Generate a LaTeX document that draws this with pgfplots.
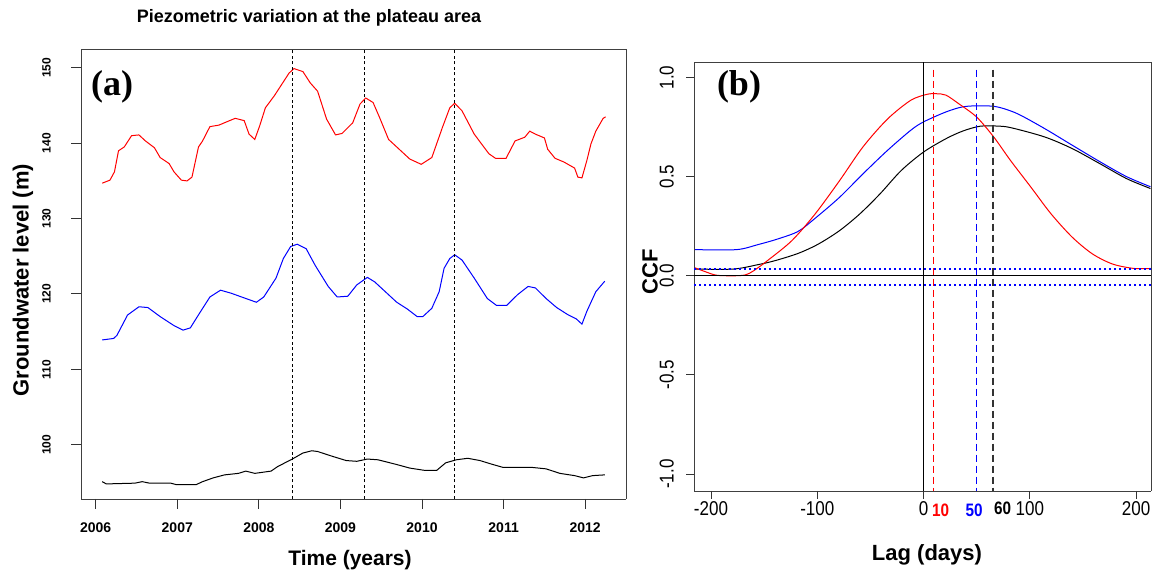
\documentclass[border=0pt]{standalone}
\usepackage{fontspec}
\setmainfont{Liberation Sans}
\newfontfamily\timesf{Liberation Serif}
\newfontfamily\narrowf[FakeStretch=0.85]{Liberation Sans}
\usepackage{pgfplots}
\pgfplotsset{compat=1.18}
\definecolor{rr}{RGB}{255,0,0}
\definecolor{bb}{RGB}{0,0,255}

\begin{document}
\begin{tikzpicture}
\path[use as bounding box] (0pt,0pt) rectangle (1157pt,577pt);
\node[font=\bfseries\fontsize{18}{20}\selectfont] at (309pt,559pt) {Piezometric variation at the plateau area};

% ---------------- panel (a) ----------------
\begin{axis}[
 at={(81pt,78pt)}, anchor=south west, width=545pt, height=450pt, scale only axis,
 xmin=2005.82, xmax=2012.5, ymin=92.8, ymax=152.5,
 axis x line*=bottom, axis y line*=left,
 xtick={2006,2007,2008,2009,2010,2011,2012},
 xticklabels={2006,2007,2008,2009,2010,2011,2012},
 ytick={100,110,120,130,140,150},
 yticklabels={100,110,120,130,140,150},
 tick align=outside,
 major tick length=10pt,
 axis line style={-, black!75, line width=0.9pt},
 major tick style={draw=black!80, line width=1pt},
 xticklabel style={font=\bfseries\fontsize{14}{14}\selectfont, inner sep=0pt, anchor=north, yshift=-14pt},
 yticklabel style={font=\bfseries\fontsize{12}{12}\selectfont, inner sep=0pt, rotate=90, anchor=south, yshift=20pt},
 clip=false,
]
\draw[black!75, line width=0.9pt] (rel axis cs:0,1) -- (rel axis cs:1,1) -- (rel axis cs:1,0);
\pgfplotsinvokeforeach{2006,2007,2008,2009,2010,2011,2012}{
  \draw[black!80, line width=1pt] (axis cs:#1,92.8) -- ++(0pt,-10pt);
}
\pgfplotsinvokeforeach{100,110,120,130,140,150}{
  \draw[black!80, line width=1pt] (axis cs:2005.82,#1) -- ++(-10pt,0pt);
}
\addplot[rr, line width=1pt] coordinates {
(2006.08,134.7)(2006.175,135.1)(2006.23,136.2)(2006.28,139.0)(2006.35,139.5)(2006.44,141.0)(2006.53,141.1)(2006.61,140.3)(2006.72,139.4)(2006.79,138.1)(2006.90,137.3)(2006.96,136.2)(2007.05,135.1)(2007.12,135.0)(2007.18,135.5)(2007.26,139.5)(2007.31,140.3)(2007.40,142.2)(2007.51,142.4)(2007.62,142.9)(2007.71,143.3)(2007.82,143.0)(2007.88,141.2)(2007.95,140.5)(2008.01,142.3)(2008.08,144.7)(2008.19,146.3)(2008.28,147.8)(2008.37,149.3)(2008.43,149.9)(2008.54,149.5)(2008.63,148.0)(2008.72,146.9)(2008.83,143.2)(2008.94,141.1)(2009.02,141.3)(2009.15,142.7)(2009.24,145.2)(2009.31,146.0)(2009.40,145.4)(2009.48,143.4)(2009.59,140.5)(2009.72,139.2)(2009.85,137.9)(2009.99,137.2)(2010.12,138.1)(2010.25,142.1)(2010.34,144.7)(2010.40,145.3)(2010.49,144.3)(2010.64,141.2)(2010.82,138.6)(2010.90,138.0)(2011.03,138.0)(2011.14,140.3)(2011.26,140.8)(2011.32,141.6)(2011.39,141.2)(2011.50,140.7)(2011.54,139.2)(2011.63,138.0)(2011.74,137.5)(2011.87,136.7)(2011.91,135.5)(2011.96,135.4)(2012.02,137.7)(2012.07,139.9)(2012.13,141.6)(2012.22,143.3)(2012.25,143.5)};
\addplot[bb, line width=1pt] coordinates {
(2006.08,113.9)(2006.22,114.1)(2006.26,114.5)(2006.39,117.2)(2006.53,118.3)(2006.64,118.2)(2006.79,117.0)(2006.96,115.8)(2007.07,115.2)(2007.16,115.5)(2007.27,117.4)(2007.40,119.6)(2007.53,120.5)(2007.66,120.1)(2007.84,119.4)(2007.97,118.9)(2008.06,119.6)(2008.21,122.1)(2008.30,124.7)(2008.39,126.3)(2008.47,126.6)(2008.58,126.0)(2008.69,123.8)(2008.85,121.0)(2008.96,119.6)(2009.09,119.7)(2009.20,121.2)(2009.33,122.2)(2009.42,121.6)(2009.55,120.3)(2009.69,118.9)(2009.82,118.0)(2009.94,117.0)(2010.01,117.0)(2010.12,118.1)(2010.21,120.3)(2010.27,123.4)(2010.34,124.7)(2010.40,125.2)(2010.49,124.5)(2010.64,122.1)(2010.80,119.4)(2010.91,118.5)(2011.04,118.5)(2011.17,119.9)(2011.30,121.0)(2011.39,120.8)(2011.52,119.4)(2011.65,118.2)(2011.78,117.3)(2011.89,116.7)(2011.96,116.0)(2012.02,117.7)(2012.13,120.3)(2012.24,121.7)};
\addplot[black, line width=1pt] coordinates {
(2006.08,95.1)(2006.13,94.8)(2006.48,94.9)(2006.57,95.1)(2006.66,94.9)(2006.92,94.9)(2006.99,94.7)(2007.23,94.7)(2007.31,95.1)(2007.44,95.6)(2007.58,96.0)(2007.75,96.2)(2007.84,96.5)(2007.95,96.2)(2008.15,96.5)(2008.23,97.1)(2008.41,98.1)(2008.54,98.9)(2008.65,99.2)(2008.72,99.1)(2008.89,98.5)(2009.07,97.9)(2009.20,97.8)(2009.33,98.1)(2009.46,98.0)(2009.68,97.4)(2009.85,96.9)(2010.03,96.6)(2010.18,96.6)(2010.29,97.6)(2010.42,98.0)(2010.56,98.2)(2010.71,97.9)(2010.86,97.4)(2010.99,97.0)(2011.34,97.0)(2011.52,96.8)(2011.69,96.2)(2011.87,95.9)(2011.98,95.6)(2012.09,95.9)(2012.24,96.0)};
\addplot[black, line width=0.9pt, dash pattern=on 3pt off 2.5pt] coordinates {(2008.41,92.8)(2008.41,152.5)};
\addplot[black, line width=0.9pt, dash pattern=on 3pt off 2.5pt] coordinates {(2009.29,92.8)(2009.29,152.5)};
\addplot[black, line width=0.9pt, dash pattern=on 3pt off 2.5pt] coordinates {(2010.40,92.8)(2010.40,152.5)};
\end{axis}

\node[font=\bfseries\fontsize{22}{24}\selectfont, rotate=90] at (23pt,297pt) {Groundwater level (m)};
\node[font=\bfseries\fontsize{21}{24}\selectfont] at (350pt,17pt) {Time (years)};
\node[font=\timesf\bfseries\fontsize{36}{38}\selectfont] at (112pt,490pt) {(a)};

% ---------------- panel (b) ----------------
\begin{axis}[
 at={(694pt,86pt)}, anchor=south west, width=457pt, height=429pt, scale only axis,
 xmin=-216, xmax=214, ymin=-1.085, ymax=1.078,
 axis x line*=bottom, axis y line*=left,
 xtick={-200,-100,0,100,200},
 xticklabels={-200,-100,0,100,200},
 ytick={-1,-0.5,0,0.5,1},
 yticklabels={-1.0,-0.5,0.0,0.5,1.0},
 tick align=outside,
 major tick length=8pt,
 axis line style={-, black!75, line width=0.9pt},
 major tick style={draw=black!80, line width=1pt},
 xticklabel style={font=\narrowf\fontsize{20}{20}\selectfont, inner sep=0pt, anchor=north, yshift=-2pt},
 yticklabel style={font=\narrowf\fontsize{20}{20}\selectfont, inner sep=0pt, rotate=90, anchor=south, yshift=12pt},
 clip=false,
]
\draw[black!75, line width=0.9pt] (rel axis cs:0,1) -- (rel axis cs:1,1) -- (rel axis cs:1,0);
\pgfplotsinvokeforeach{-200,-100,0,100,200}{
  \draw[black!80, line width=1pt] (axis cs:#1,-1.085) -- ++(0pt,-8pt);
}
\pgfplotsinvokeforeach{-1,-0.5,0,0.5,1}{
  \draw[black!80, line width=1pt] (axis cs:-216,#1) -- ++(-8pt,0pt);
}
\addplot[black, line width=1pt, smooth, tension=0.5] coordinates {
(-215,0.034)(-179,0.034)(-156,0.056)(-140,0.076)(-118,0.113)(-99,0.16)(-79,0.228)(-60,0.312)(-41,0.413)(-21,0.531)(0,0.624)(21,0.691)(37,0.730)(53,0.754)(69,0.755)(82,0.747)(114,0.70)(140,0.641)(166,0.565)(191,0.49)(213.5,0.44)};
\addplot[bb, line width=1pt, smooth, tension=0.5] coordinates {
(-215,0.132)(-176,0.132)(-156,0.157)(-137,0.186)(-118,0.224)(-102,0.29)(-79,0.396)(-57,0.514)(-34,0.632)(-12,0.734)(0,0.776)(21,0.826)(37,0.852)(53,0.857)(69,0.852)(88,0.818)(114,0.742)(140,0.658)(166,0.575)(191,0.50)(213.5,0.449)};
\addplot[rr, line width=1pt, smooth, tension=0.5] coordinates {
(-215,0.04)(-205,0.02)(-195,0.003)(-180,0.0)(-168,0.004)(-160,0.025)(-147,0.076)(-124,0.177)(-102,0.312)(-79,0.48)(-57,0.65)(-34,0.79)(-12,0.885)(4,0.916)(12,0.918)(21,0.911)(33,0.868)(50,0.80)(66,0.70)(82,0.58)(101,0.447)(120,0.312)(140,0.194)(159,0.11)(178,0.059)(198,0.037)(213.5,0.037)};
\addplot[black, line width=0.9pt] coordinates {(-216,0)(214,0)};
\addplot[black, line width=0.9pt] coordinates {(0,-1.085)(0,1.078)};
\addplot[color=bb, line width=1.2pt, dash pattern=on 2pt off 3pt] coordinates {(-216,0.034)(214,0.034)};
\addplot[color=bb, line width=1.2pt, dash pattern=on 2pt off 3pt] coordinates {(-216,-0.046)(214,-0.046)};
\addplot[color=bb, line width=1.2pt, dash pattern=on 7pt off 4pt] coordinates {(49.6,1.04)(49.6,-1.085)};
\addplot[color=black!80, line width=1.2pt, dash pattern=on 7pt off 4pt] coordinates {(65.4,1.04)(65.4,-1.085)};
\addplot[color=rr, line width=1.4pt, dash pattern=on 7pt off 4pt] coordinates {(9.3,1.04)(9.3,-1.085)};
\end{axis}

\node[font=\bfseries\fontsize{22}{24}\selectfont, rotate=90] at (650pt,305pt) {CCF};
\node[font=\bfseries\fontsize{22}{24}\selectfont] at (927pt,22pt) {Lag (days)};
\node[font=\timesf\bfseries\fontsize{36}{38}\selectfont] at (739pt,490pt) {(b)};
\node[font=\narrowf\bfseries\fontsize{18}{18}\selectfont, text=rr] at (940.5pt,67pt) {10};
\node[font=\narrowf\bfseries\fontsize{18}{18}\selectfont, text=bb] at (974pt,67pt) {50};
\node[font=\narrowf\bfseries\fontsize{18}{18}\selectfont, text=black] at (1002.5pt,69pt) {60};
\end{tikzpicture}
\end{document}
